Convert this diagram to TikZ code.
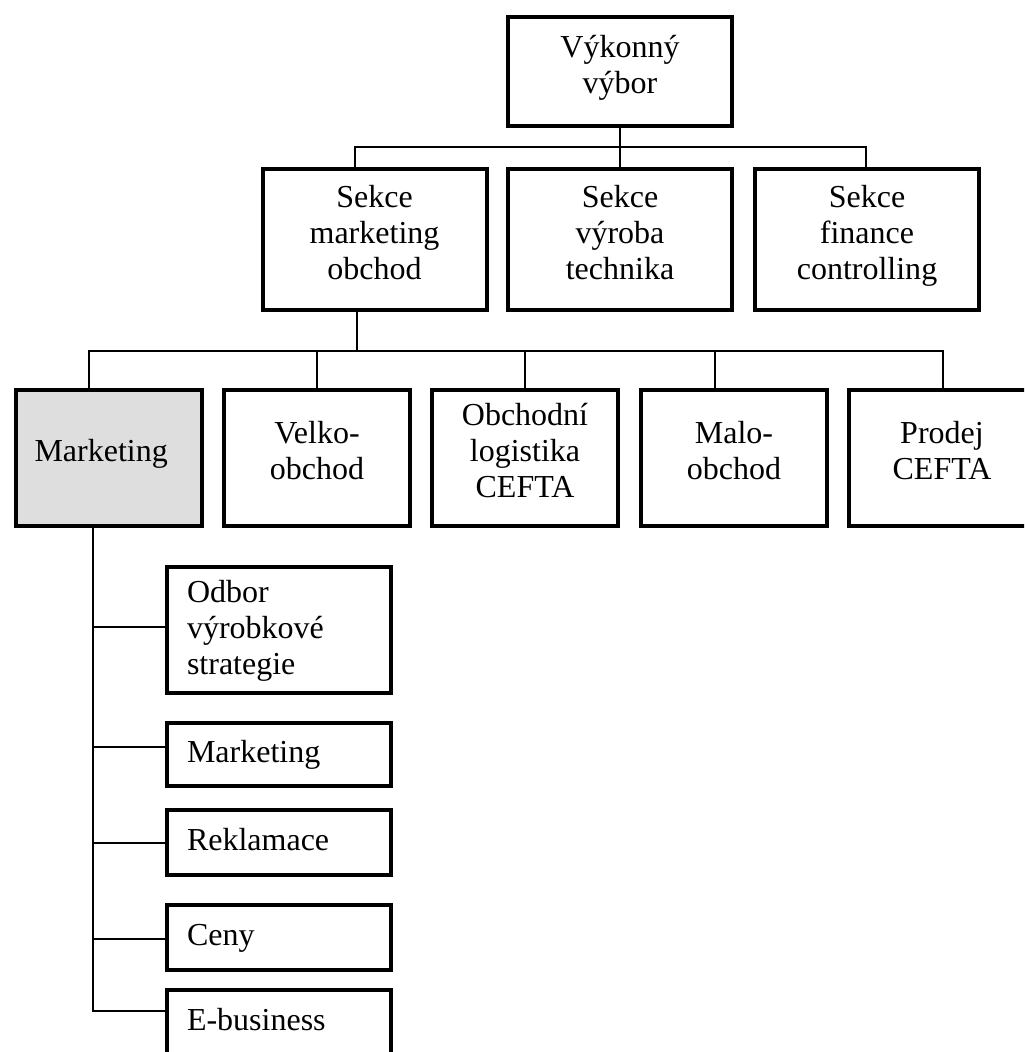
\documentclass[tikz,border=0pt]{standalone}
\usepackage{fontspec}
\setmainfont{Liberation Serif}
% fixed-height line struts: every text line takes exactly one baselineskip
\newcommand\Cs{\rule[-11.25pt]{0pt}{27pt}}
\newcommand\Ls{\rule[-7.5pt]{0pt}{27pt}}
\begin{document}
\setlength\lineskiplimit{-100pt}
\definecolor{boxfill}{RGB}{222,222,222}
\tikzset{
  unit/.style={box/.style={draw, line width=3pt, inner sep=0pt, align=center,
      font=\fontsize{24pt}{27pt}\selectfont}},
  conn/.style={line width=1.3pt, line cap=rect},
  topbox/.style={box, minimum width=168pt, minimum height=81.75pt},
  secbox/.style={box, minimum width=168pt, minimum height=105.75pt},
  deptbox/.style={box, minimum width=139.5pt, minimum height=102pt},
  subbox/.style={box, minimum width=168pt, align=left, inner xsep=15pt,
      text width=138pt},
}
\begin{tikzpicture}[x=0.75pt, y=-0.75pt, unit]
\useasboundingbox (0,0) rectangle (1024,1052);
\clip (0,0) rectangle (1024,1052);

% board
\node[topbox] (vv) at (620,71.5) {\Cs Výkonný\\\Cs výbor};

% sections
\node[secbox] (sm) at (374.5,239.5) {\Cs Sekce\\\Cs marketing\\\Cs obchod};
\node[secbox] (sv) at (620,239.5) {\Cs Sekce\\\Cs výroba\\\Cs technika};
\node[secbox] (sf) at (867,239.5) {\Cs Sekce\\\Cs finance\\\Cs controlling};

% departments
\node[deptbox, fill=boxfill] (mk) at (108.5,458) {\Cs Marketing\hspace*{11pt}};
\node[deptbox] (ve) at (317,458) {\Cs Velko-\\\Cs obchod};
\node[deptbox] (ol) at (525,458) {\Cs Obchodní\\\Cs logistika\\\Cs CEFTA};
\node[deptbox] (mo) at (734,458) {\Cs Malo-\\\Cs obchod};
\node[deptbox] (pc) at (942,458) {\Cs Prodej\\\Cs CEFTA};

% offices under marketing
\node[subbox, minimum height=94.5pt] (od) at (279,630) {\Ls Odbor\\\Ls výrobkové\\\Ls strategie};
\node[subbox, minimum height=47.25pt] (m2) at (279,754.5) {\Ls Marketing};
\node[subbox, minimum height=48.75pt] (rk) at (279,842.5) {\Ls Reklamace};
\node[subbox, minimum height=48.75pt] (cn) at (279,937.5) {\Ls Ceny};
\node[subbox, minimum height=48.75pt] (eb) at (279,1022.5) {\Ls E-business};

% bus lines
\coordinate (b1L) at (355,147);
\coordinate (b1R) at (866,147);
\coordinate (b2T) at (357,351);
\coordinate (b2L) at (89,351);
\coordinate (b2R) at (943,351);
\coordinate (b2M) at (715,351);
\coordinate (s1) at (93,627);
\coordinate (s2) at (93,747);
\coordinate (s3) at (93,843);
\coordinate (s4) at (93,939);
\coordinate (s5) at (93,1011);

\draw[conn] (vv.south) -- (sv.north);
\draw[conn] (sm.north -| b1L) -- (b1L) -- (b1R) -- (sf.north -| b1R);

\draw[conn] (sm.south -| b2T) -- (b2T);
\draw[conn] (mk.north -| b2L) -- (b2L) -- (b2R) -- (pc.north -| b2R);
\draw[conn] (ve.north) -- (ve.north |- b2L);
\draw[conn] (ol.north) -- (ol.north |- b2L);
\draw[conn] (mo.north -| b2M) -- (b2M);

\draw[conn] (mk.south -| s5) -- (s5) -- (s5 -| eb.west);
\draw[conn] (s1) -- (s1 -| od.west);
\draw[conn] (s2) -- (s2 -| m2.west);
\draw[conn] (s3) -- (s3 -| rk.west);
\draw[conn] (s4) -- (s4 -| cn.west);
\end{tikzpicture}
\end{document}
